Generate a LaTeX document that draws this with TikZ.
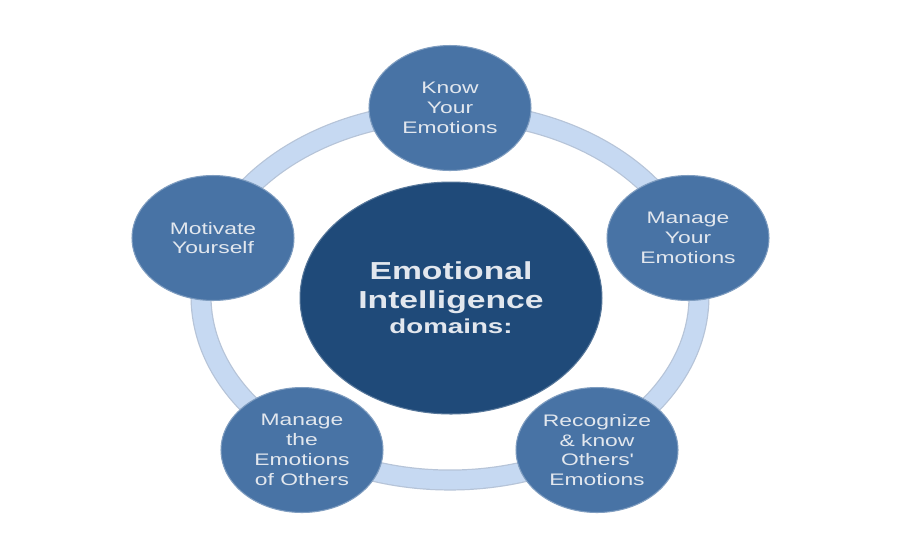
\documentclass[tikz,border=0pt]{standalone}
\usepackage{fontspec}
\setmainfont{Liberation Sans}[FakeStretch=1.37]
\usetikzlibrary{shapes.geometric}
\definecolor{ringblue}{RGB}{198,217,242}
\definecolor{ringedge}{RGB}{182,196,216}
\definecolor{skillblue}{RGB}{72,115,165}
\definecolor{coreblue}{RGB}{31,74,121}
\definecolor{paletext}{RGB}{226,231,238}
\begin{document}
\begin{tikzpicture}[
  x=0.02cm, y=-0.02cm,
  skill/.style={ellipse, fill=skillblue, draw=skillblue!70!white, line width=0.6pt,
    minimum width=3.24cm, minimum height=2.5cm, inner sep=0pt, align=center,
    text=paletext, font=\fontsize{9.5}{11.3}\selectfont},
  core/.style={ellipse, fill=coreblue, draw=coreblue!75!white, line width=0.6pt,
    minimum width=6.04cm, minimum height=4.64cm, inner sep=0pt, align=center,
    text=paletext, font=\bfseries\fontsize{14}{16.4}\selectfont}
]
\useasboundingbox[fill=white] (0,0) rectangle (900,559);
% ring behind the skills
\draw[ringedge, line width=12pt] (450,296) ellipse [x radius=249, y radius=184];
\draw[ringblue, line width=10.6pt] (450,296) ellipse [x radius=249, y radius=184];

\node[core] (ei) at (451,298) {Emotional\\Intelligence\\[-2pt]
  {\fontsize{11.5}{14}\selectfont domains:}};

\node[skill] (know) at (450,108) {Know\\Your\\Emotions};
\node[skill] (manage) at (688,238) {Manage\\Your\\Emotions};
\node[skill] (recognize) at (597,450) {Recognize\\\& know\\Others\textquotesingle\\Emotions};
\node[skill] (others) at (302,450) {Manage\\the\\Emotions\\of Others};
\node[skill] (motivate) at (213,238) {Motivate\\Yourself};
\end{tikzpicture}
\end{document}
